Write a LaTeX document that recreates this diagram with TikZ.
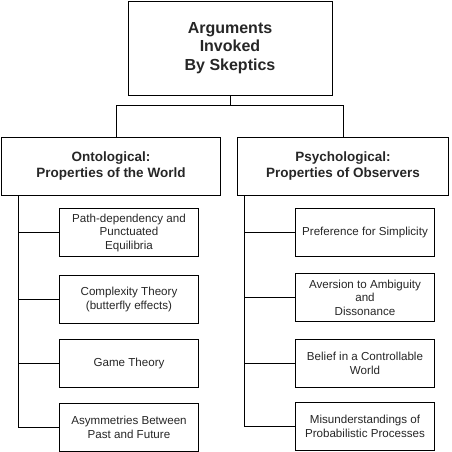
\documentclass[tikz,border=0pt]{standalone}
\usepackage{fontspec}
\setmainfont{Liberation Sans}
\usepackage{tikz}
\usetikzlibrary{positioning}

\begin{document}
\begin{tikzpicture}[
  x=1pt, y=-1pt,
  line width=0.8pt,
  node distance=17pt and 17pt,
  box/.style={draw, align=center, inner sep=2pt, text=black!85},
  rootbox/.style={box, minimum width=204pt, minimum height=94pt, font=\fontsize{16}{18.5}\selectfont\bfseries},
  branch/.style={box, minimum height=58pt, font=\fontsize{13.5}{15.5}\selectfont\bfseries},
  leaf/.style={box, minimum width=139pt, minimum height=48pt, font=\fontsize{11.6}{13.5}\selectfont},
  link/.style={line width=0.8pt}
]
\useasboundingbox (0,0) rectangle (451,452);

\node[rootbox] (root) at (230,48) {Arguments\\Invoked\\By Skeptics};
\node[branch, minimum width=219pt] (onto) at (111,166) {Ontological:\\Properties of the World};
\node[branch, minimum width=211pt] (psych) at (343,166) {Psychological:\\Properties of Observers};

% fork under the root
\coordinate (fork) at ([yshift=-10pt]root.south);
\draw[link] (root) -- (fork);
\draw[link] (fork) -| ([xshift=5pt]onto.north);
\draw[link] (fork) -| (psych);

% left column
\node[leaf, below right=13pt and 58pt of onto.south west] (o1) {Path-dependency and\\Punctuated\\Equilibria};
\node[leaf, below=18pt of o1] (o2) {Complexity Theory\\(butterfly effects)};
\node[leaf, below=15pt of o2] (o3) {Game Theory};
\node[leaf, below=15pt of o3] (o4) {Asymmetries Between\\Past and Future};

% right column
\node[leaf, below right=13pt and 58pt of psych.south west] (p1) {Preference for Simplicity};
\node[leaf, below=16pt of p1] (p2) {Aversion to Ambiguity\\and\\Dissonance};
\node[leaf, below=17pt of p2] (p3) {Belief in a Controllable\\World};
\node[leaf, below=14pt of p3] (p4) {Misunderstandings of\\Probabilistic Processes};

\coordinate (lspine) at ([xshift=17pt]onto.south west);
\coordinate (rspine) at ([xshift=7pt]psych.south west);
\draw[link] (lspine) |- (o4.west);
\draw[link] (rspine) |- (p4.west);
\foreach \c in {o1,o2,o3} {\draw[link] (lspine |- \c.west) -- (\c.west);}
\foreach \c in {p1,p2,p3} {\draw[link] (rspine |- \c.west) -- (\c.west);}
\end{tikzpicture}
\end{document}
